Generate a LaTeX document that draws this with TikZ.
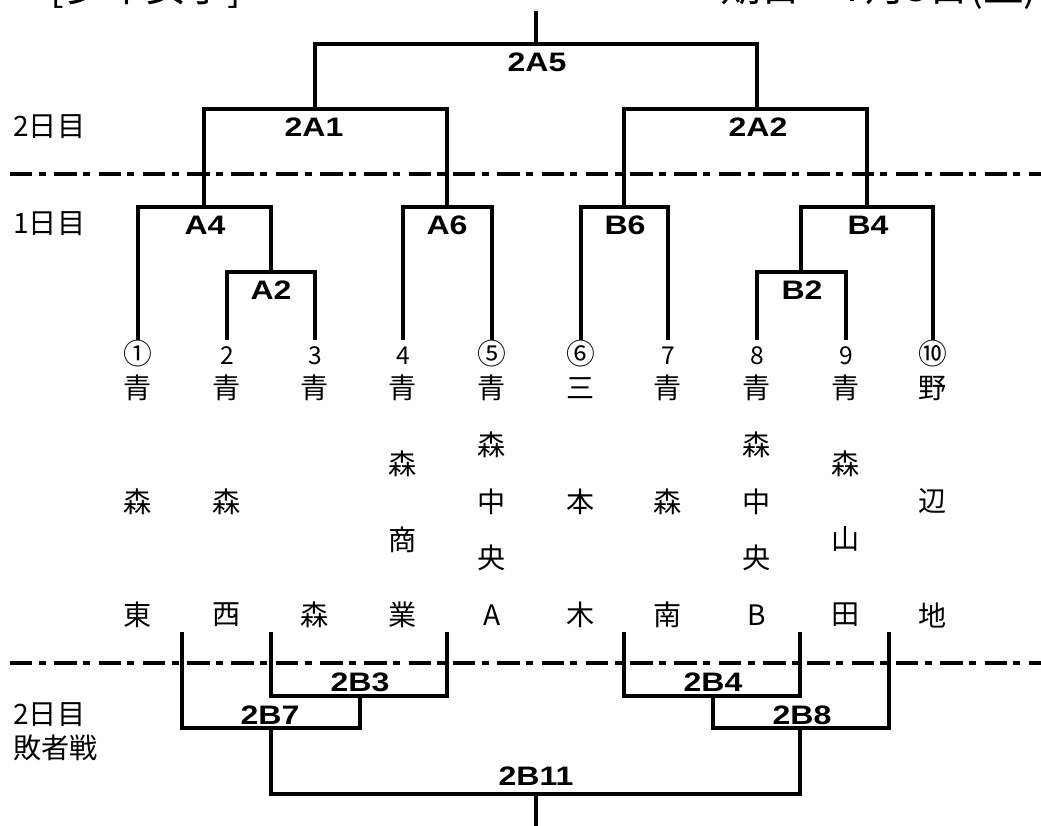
\documentclass[tikz,border=0pt]{standalone}
\usepackage{fontspec}
\setmainfont{Noto Sans CJK JP}
\newfontfamily\labfont{Liberation Sans}[FakeStretch=1.2]
\usetikzlibrary{calc}

\newcommand{\school}[4]{%
  \foreach \c [count=\k from 0] in {#4}
    \node[namechar] (s#1-\k) at (#2,{388+\k*#3}) {\c};}

\begin{document}
\begin{tikzpicture}[x=0.025cm,y=-0.025cm]
\tikzset{bar/.style = {line width=2.3pt}}
\tikzset{split/.style = {line width=2.3pt, dash pattern=on 16pt off 4.5pt on 5pt off 6pt}}
\tikzset{match/.style = {font=\labfont\bfseries\fontsize{19}{21}\selectfont, inner sep=0pt}}
\tikzset{day/.style = {anchor=west, inner sep=0pt, font=\fontsize{20}{24}\selectfont}}
\tikzset{seed/.style = {font=\fontsize{17.5}{20}\selectfont, text height=13pt, text depth=3pt, inner xsep=1pt, inner ysep=4pt}}
\tikzset{circled/.style = {seed, font=\fontsize{20.5}{22}\selectfont}}
\tikzset{namechar/.style = {font=\fontsize{20}{24}\selectfont, inner sep=0pt}}
\tikzset{title/.style = {font=\fontsize{29}{32}\selectfont, inner sep=0pt}}
\useasboundingbox (0,0) rectangle (1041,825);
% heading
\node[title, anchor=base west] (event) at (50,1.5) {[少年女子]};
\node[title, anchor=base east] (date) at (1038,1.5) {期日　7月3日(土)};
% days
\node[day] (day2) at (13,127) {2日目};
\node[day] (day1) at (13,224) {1日目};
\node[day] (day2b) at (13,715) {2日目};
\node[day] (loser) at (13,748) {敗者戦};
\coordinate (sa1) at (10,174);
\coordinate (sa2) at (1041,174);
\coordinate (sb1) at (10,663);
\coordinate (sb2) at (1041,663);
\draw[split] (sa1) -- (sa2);
\draw[split] (sb1) -- (sb2);
% entries
\node[circled] (n1) at (138,357) {①};
\node[seed] (n2) at (227,357) {2};
\node[seed] (n3) at (315,357) {3};
\node[seed] (n4) at (403,357) {4};
\node[circled] (n5) at (492,357) {⑤};
\node[circled] (n6) at (581,357) {⑥};
\node[seed] (n7) at (668,357) {7};
\node[seed] (n8) at (757,357) {8};
\node[seed] (n9) at (846,357) {9};
\node[circled] (n10) at (933,357) {⑩};
\school{1}{138}{113.5}{青,森,東}
\school{2}{227}{113.5}{青,森,西}
\school{3}{315}{227}{青,森}
\school{4}{403}{75.67}{青,森,商,業}
\school{5}{492}{56.75}{青,森,中,央,A}
\school{6}{581}{113.5}{三,本,木}
\school{7}{668}{113.5}{青,森,南}
\school{8}{757}{56.75}{青,森,中,央,B}
\school{9}{846}{75.67}{青,森,山,田}
\school{10}{933}{113.5}{野,辺,地}
% winners
\coordinate (a2) at (271,272);
\coordinate (a4) at (204,207);
\coordinate (a6) at (447,207);
\coordinate (b6) at (624,207);
\coordinate (b2) at (801,272);
\coordinate (b4) at (867,207);
\coordinate (w1) at (315,109);
\coordinate (w2) at (757,109);
\coordinate (w5) at (536,44);
\coordinate (top) at (536,11);
\node[match] (a2lab) at (271,290) {A2};
\node[match] (a4lab) at (205,225) {A4};
\node[match] (a6lab) at (447,225) {A6};
\node[match] (b6lab) at (625,225) {B6};
\node[match] (b2lab) at (802,290) {B2};
\node[match] (b4lab) at (868,225) {B4};
\node[match] (w1lab) at (314,127) {2A1};
\node[match] (w2lab) at (758,127) {2A2};
\node[match] (w5lab) at (537,62) {2A5};
\draw[bar] (n2) |- (a2) -| (n3);
\draw[bar] (n1) |- (a4) -| (a2);
\draw[bar] (n4) |- (a6) -| (n5);
\draw[bar] (n6) |- (b6) -| (n7);
\draw[bar] (n8) |- (b2) -| (n9);
\draw[bar] (b2) |- (b4) -| (n10);
\draw[bar] (a4) |- (w1) -| (a6);
\draw[bar] (b6) |- (w2) -| (b4);
\draw[bar] (w1) |- (w5) -| (w2);
\draw[bar] (w5) -- (top);
% losers
\coordinate (u1) at (182,632);
\coordinate (u2) at (271,632);
\coordinate (u3) at (447,632);
\coordinate (u4) at (624,632);
\coordinate (u5) at (800,632);
\coordinate (u6) at (889,632);
\coordinate (l3) at (360,696);
\coordinate (l7) at (271,728);
\coordinate (l4) at (713,696);
\coordinate (l8) at (800,728);
\coordinate (l11) at (536,794);
\coordinate (bottom) at (536,826);
\node[match] (l3lab) at (360,682) {2B3};
\node[match] (l7lab) at (270,715) {2B7};
\node[match] (l4lab) at (713,682) {2B4};
\node[match] (l8lab) at (802,715) {2B8};
\node[match] (l11lab) at (536,776) {2B11};
\draw[bar] (u2) |- (l3) -| (u3);
\draw[bar] (u1) |- (l7) -| (l3);
\draw[bar] (u4) |- (l4) -| (u5);
\draw[bar] (l4) |- (l8) -| (u6);
\draw[bar] (l7) |- (l11) -| (l8);
\draw[bar] (l11) -- (bottom);
\end{tikzpicture}
\end{document}
